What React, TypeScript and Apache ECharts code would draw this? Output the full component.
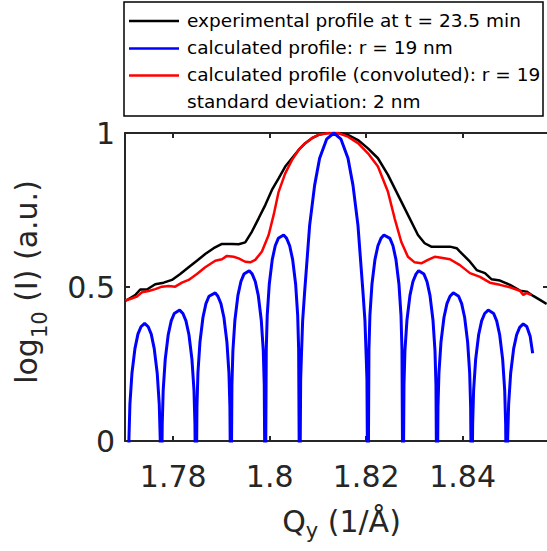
import React, { useEffect, useRef } from "react";
import * as echarts from "echarts";

// ---- data (Q in 1/Å, log10 intensity in a.u.) ----
const xTickValues = [1.78, 1.8, 1.82, 1.84];
const qRange = [1.77, 1.8577];

const legendLabels = [
  "experimental profile at t = 23.5 min",
  "calculated profile: r = 19 nm",
  "calculated profile (convoluted): r = 19",
  "standard deviation: 2 nm",
];

const experimentalProfile: [number, number][] = [
  [1.77005, 0.455], [1.77075, 0.461], [1.77212, 0.474], [1.77316, 0.492], [1.77455, 0.492],
  [1.77627, 0.509], [1.77801, 0.514], [1.77973, 0.523], [1.78145, 0.542], [1.78319, 0.564],
  [1.78491, 0.585], [1.78663, 0.607], [1.78838, 0.626], [1.7901, 0.64], [1.79217, 0.64],
  [1.79356, 0.639], [1.79493, 0.645], [1.79632, 0.68], [1.79771, 0.723], [1.79908, 0.766],
  [1.80046, 0.815], [1.80185, 0.853], [1.80322, 0.891], [1.80461, 0.918], [1.806, 0.945],
  [1.80737, 0.967], [1.80876, 0.983], [1.81015, 0.994], [1.81152, 0.999], [1.81291, 1.0],
  [1.81415, 1.0], [1.81622, 0.994], [1.8183, 0.977], [1.82037, 0.95], [1.82244, 0.918],
  [1.82452, 0.864], [1.82659, 0.799], [1.82866, 0.734], [1.83074, 0.669], [1.83213, 0.642],
  [1.83349, 0.631], [1.83557, 0.631], [1.83737, 0.631], [1.83876, 0.626], [1.83944, 0.615],
  [1.84152, 0.582], [1.84291, 0.555], [1.84463, 0.545], [1.84602, 0.525], [1.84774, 0.521],
  [1.84981, 0.507], [1.85189, 0.488], [1.85327, 0.485], [1.85464, 0.471], [1.85603, 0.458],
  [1.85742, 0.445],
];

const calculatedProfile: [number, number][] = [
  [1.77061, -0.3], [1.77082, 0.01], [1.77102, 0.12], [1.77144, 0.22], [1.77206, 0.3], [1.77268, 0.347], [1.77331, 0.371], [1.77407, 0.382],
  [1.77481, 0.371], [1.77544, 0.347], [1.77606, 0.3], [1.77668, 0.22], [1.7771, 0.12], [1.7773, 0.01], [1.77751, -0.3],
  [1.77772, 0.055], [1.77792, 0.165], [1.77834, 0.265], [1.77896, 0.345], [1.77958, 0.39], [1.78021, 0.414], [1.78133, 0.425],
  [1.78201, 0.414], [1.78264, 0.39], [1.78326, 0.345], [1.78388, 0.265], [1.7843, 0.165], [1.7845, 0.055], [1.78471, -0.3],
  [1.78492, 0.111], [1.78512, 0.221], [1.78554, 0.321], [1.78616, 0.401], [1.78678, 0.446], [1.78741, 0.47], [1.78871, 0.481],
  [1.78926, 0.47], [1.78989, 0.446], [1.79051, 0.401], [1.79113, 0.321], [1.79155, 0.221], [1.79175, 0.111], [1.79196, -0.3],
  [1.79217, 0.183], [1.79237, 0.293], [1.79279, 0.393], [1.79341, 0.473], [1.79403, 0.518], [1.79466, 0.542], [1.79576, 0.553],
  [1.79638, 0.542], [1.79701, 0.518], [1.79763, 0.473], [1.79825, 0.393], [1.79867, 0.293], [1.79887, 0.183], [1.79908, -0.3],
  [1.79929, 0.299], [1.79949, 0.409], [1.79991, 0.509], [1.80053, 0.589], [1.80115, 0.634], [1.80178, 0.658], [1.80289, 0.669],
  [1.80351, 0.658], [1.80414, 0.634], [1.80476, 0.589], [1.80538, 0.509], [1.8058, 0.409], [1.806, 0.299], [1.80621, -0.3],
  [1.80642, 0.2], [1.80656, 0.268], [1.80683, 0.39], [1.80725, 0.485], [1.80828, 0.7], [1.80931, 0.83], [1.81035, 0.918], [1.8118, 0.98],
  [1.81332, 1.0],
  [1.81478, 0.98], [1.81623, 0.918], [1.81727, 0.83], [1.8183, 0.7], [1.81933, 0.485], [1.81975, 0.39], [1.82002, 0.268], [1.82016, 0.2], [1.82037, -0.3],
  [1.82058, 0.299], [1.82078, 0.409], [1.8212, 0.509], [1.82182, 0.589], [1.82244, 0.634], [1.82307, 0.658], [1.82369, 0.669],
  [1.82493, 0.658], [1.82556, 0.634], [1.82618, 0.589], [1.8268, 0.509], [1.82722, 0.409], [1.82742, 0.299], [1.82763, -0.3],
  [1.82784, 0.183], [1.82804, 0.293], [1.82846, 0.393], [1.82908, 0.473], [1.8297, 0.518], [1.83033, 0.542], [1.83088, 0.553],
  [1.83198, 0.542], [1.83261, 0.518], [1.83323, 0.473], [1.83385, 0.393], [1.83427, 0.293], [1.83447, 0.183], [1.83468, -0.3],
  [1.83489, 0.111], [1.83509, 0.221], [1.83551, 0.321], [1.83613, 0.401], [1.83675, 0.446], [1.83738, 0.47], [1.83806, 0.481],
  [1.83917, 0.47], [1.8398, 0.446], [1.84042, 0.401], [1.84104, 0.321], [1.84146, 0.221], [1.84166, 0.111], [1.84187, -0.3],
  [1.84208, 0.055], [1.84228, 0.165], [1.8427, 0.265], [1.84332, 0.345], [1.84394, 0.39], [1.84457, 0.414], [1.84531, 0.425],
  [1.84643, 0.414], [1.84706, 0.39], [1.84768, 0.345], [1.8483, 0.265], [1.84872, 0.165], [1.84892, 0.055], [1.84913, -0.3],
  [1.84934, 0.01], [1.84954, 0.12], [1.84996, 0.22], [1.85058, 0.3], [1.8512, 0.345], [1.85183, 0.369], [1.85257, 0.38],
  [1.8533, 0.372], [1.854, 0.34], [1.85452, 0.285],
];

const convolutedProfile: [number, number][] = [
  [1.77005, 0.456], [1.77108, 0.461], [1.77247, 0.469], [1.77351, 0.483], [1.7749, 0.487],
  [1.77627, 0.493], [1.77766, 0.501], [1.77905, 0.503], [1.78041, 0.501], [1.7818, 0.514],
  [1.78319, 0.523], [1.78491, 0.542], [1.78663, 0.564], [1.78871, 0.585], [1.7901, 0.59],
  [1.79113, 0.601], [1.79252, 0.598], [1.79356, 0.593], [1.79493, 0.582], [1.79597, 0.58],
  [1.797, 0.588], [1.79839, 0.615], [1.79978, 0.669], [1.80082, 0.734], [1.80185, 0.809],
  [1.80322, 0.869], [1.80461, 0.912], [1.806, 0.945], [1.80737, 0.967], [1.80876, 0.983],
  [1.81015, 0.994], [1.81222, 1.0], [1.81415, 1.0], [1.81622, 0.988], [1.8183, 0.967],
  [1.82037, 0.934], [1.82244, 0.891], [1.82452, 0.809], [1.8259, 0.723], [1.82727, 0.647],
  [1.82866, 0.598], [1.83005, 0.58], [1.83142, 0.577], [1.83281, 0.588], [1.8342, 0.598],
  [1.83557, 0.595], [1.83737, 0.59], [1.83944, 0.571], [1.84152, 0.545], [1.8436, 0.533],
  [1.84566, 0.514], [1.84774, 0.507], [1.84981, 0.499], [1.85189, 0.488], [1.85257, 0.474],
  [1.85327, 0.48], [1.85431, 0.474],
];

const seriesColors = ["#000000", "#0000ff", "#ff0000"];

const FONT = '"DejaVu Sans", "Liberation Sans", sans-serif';
const AXIS_COLOR = "#262626";

export default function App() {
  const ref = useRef<HTMLDivElement>(null);

  useEffect(() => {
    if (!ref.current) return;
    const chart = echarts.init(ref.current, null, { renderer: "svg" });

    const axisLine = { show: true, onZero: false, lineStyle: { color: AXIS_COLOR, width: 2 } };
    const tick = { show: true, inside: true, length: 5, lineStyle: { color: AXIS_COLOR, width: 2 } };

    const legendRows = [21, 48.5, 75.5, 102.5];
    const legendGraphic: any[] = [
      {
        type: "rect",
        shape: { x: 124, y: 2, width: 419, height: 114 },
        style: { fill: "#ffffff", stroke: "#000000", lineWidth: 1.5 },
      },
    ];
    legendLabels.forEach((label, i) => {
      if (i < 3) {
        legendGraphic.push({
          type: "line",
          shape: { x1: 129, y1: legendRows[i], x2: 179, y2: legendRows[i] },
          style: { stroke: seriesColors[i], lineWidth: 2.5 },
        });
      }
      legendGraphic.push({
        type: "text",
        x: 187,
        y: legendRows[i] - 1,
        style: {
          text: label,
          font: `18.5px ${FONT}`,
          fill: "#000000",
          verticalAlign: "middle",
          align: "left",
        },
      });
    });

    chart.setOption({
      animation: false,
      backgroundColor: "#ffffff",
      grid: { left: 125, top: 133, width: 423, height: 308, outerBoundsMode: "none", containLabel: false },
      xAxis: [
        {
          type: "value",
          position: "bottom",
          min: qRange[0],
          max: qRange[1],
          axisLine,
          axisTick: { ...tick, customValues: xTickValues },
          axisLabel: {
            customValues: xTickValues,
            color: AXIS_COLOR,
            fontSize: 30,
            fontFamily: FONT,
            margin: 20,
          },
          splitLine: { show: false },
          name: "{m|Q}{s|y}{m| (1/Å)}",
          nameLocation: "middle",
          nameGap: 60,
          nameTextStyle: {
            padding: [0, 0, 0, 10],
            rich: {
              m: { fontSize: 30, fontFamily: FONT, color: AXIS_COLOR, lineHeight: 40 },
              s: { fontSize: 21, fontFamily: FONT, color: AXIS_COLOR, lineHeight: 12, verticalAlign: "bottom" },
            },
          },
        },
        {
          type: "value",
          position: "top",
          min: qRange[0],
          max: qRange[1],
          axisLine,
          axisTick: { ...tick, customValues: xTickValues },
          axisLabel: { show: false },
          splitLine: { show: false },
        },
      ],
      yAxis: [
        {
          type: "value",
          position: "left",
          min: 0,
          max: 1,
          interval: 0.5,
          axisLine,
          axisTick: tick,
          axisLabel: { color: AXIS_COLOR, fontSize: 30, fontFamily: FONT, margin: 10 },
          splitLine: { show: false },
          name: "{m|log}{s|10}{m| (I) (a.u.)}",
          nameLocation: "middle",
          nameGap: 75,
          nameTextStyle: {
            padding: [0, 0, 0, 10],
            rich: {
              m: { fontSize: 30, fontFamily: FONT, color: AXIS_COLOR, lineHeight: 48 },
              s: { fontSize: 21, fontFamily: FONT, color: AXIS_COLOR, lineHeight: 10, verticalAlign: "bottom" },
            },
          },
        },
        {
          type: "value",
          position: "right",
          min: 0,
          max: 1,
          interval: 0.5,
          axisLine,
          axisTick: tick,
          axisLabel: { show: false },
          splitLine: { show: false },
        },
      ],
      series: [
        {
          name: legendLabels[0],
          type: "line",
          data: experimentalProfile,
          showSymbol: false,
          lineStyle: { color: seriesColors[0], width: 2.5 },
          clip: true,
          z: 2,
        },
        {
          name: legendLabels[2],
          type: "line",
          data: convolutedProfile,
          showSymbol: false,
          lineStyle: { color: seriesColors[2], width: 2.5 },
          clip: true,
          z: 3,
        },
        {
          name: legendLabels[1],
          type: "line",
          data: calculatedProfile,
          showSymbol: false,
          lineStyle: { color: seriesColors[1], width: 3 },
          clip: true,
          z: 4,
        },
      ],
      graphic: legendGraphic,
    });

    return () => chart.dispose();
  }, []);

  return (
    <div
      style={{
        position: "fixed",
        left: 0,
        top: 0,
        width: 547,
        height: 551,
        overflow: "hidden",
        background: "#ffffff",
      }}
    >
      <div ref={ref} style={{ width: 550, height: 551 }} />
    </div>
  );
}
